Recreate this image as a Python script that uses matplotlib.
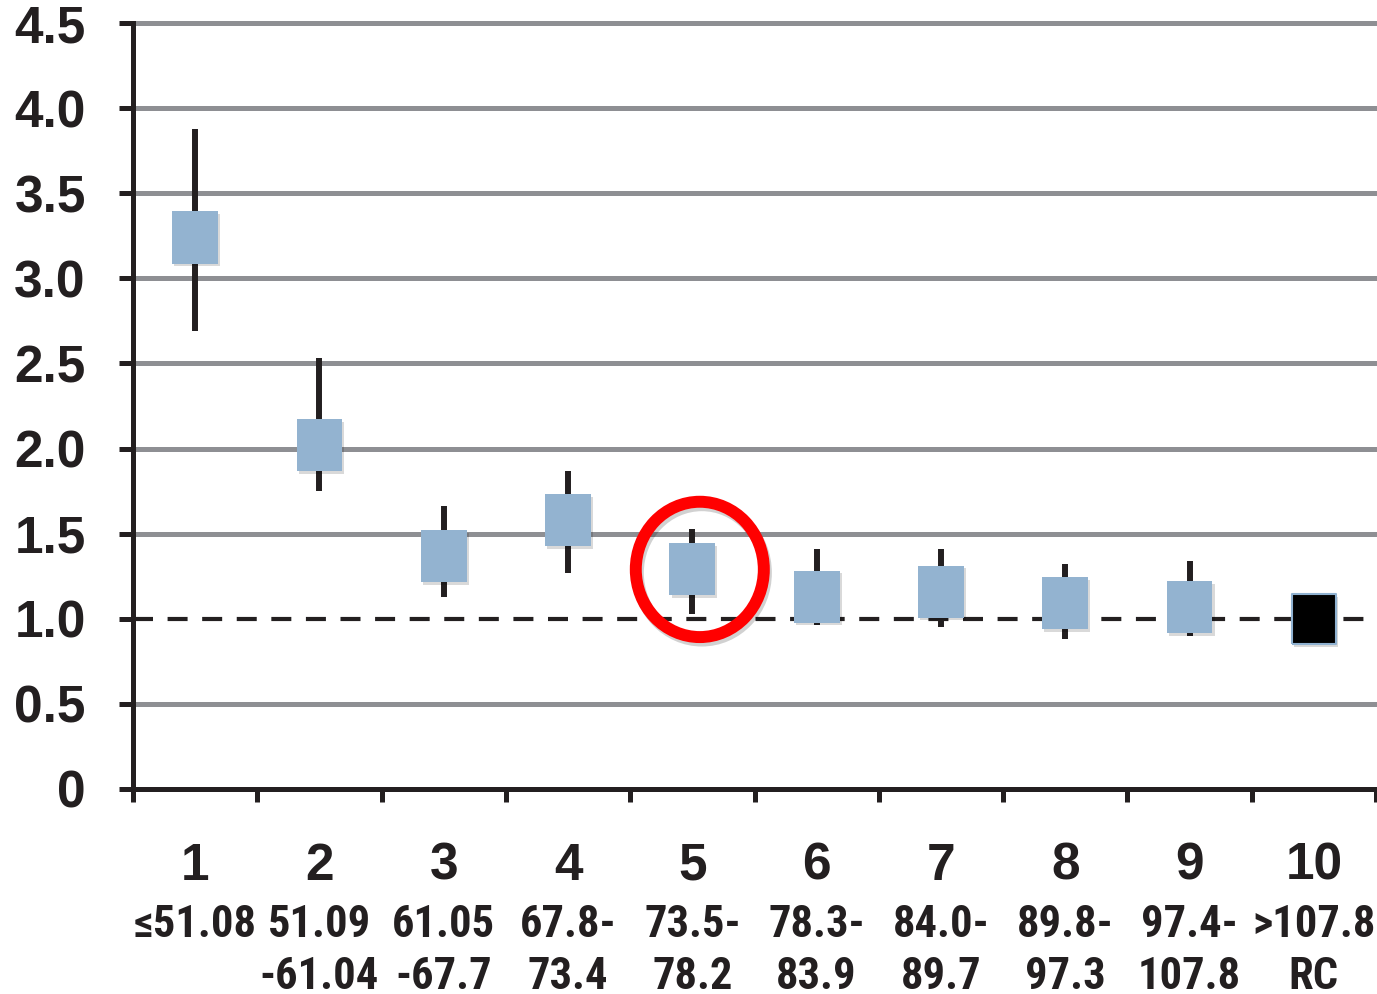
import matplotlib
matplotlib.use("Agg")
import matplotlib.pyplot as plt
import matplotlib.font_manager as fm
import matplotlib.patheffects as pe
import matplotlib.transforms as mtransforms
from matplotlib.patches import Ellipse

# ---- data ----
groups = [1, 2, 3, 4, 5, 6, 7, 8, 9, 10]
group_labels = ["1", "2", "3", "4", "5", "6", "7", "8", "9", "10"]
range_line1 = ["\u226451.08", "51.09", "61.05", "67.8-", "73.5-", "78.3-", "84.0-", "89.8-", "97.4-", ">107.8"]
range_line2 = ["", "-61.04", "-67.7", "73.4", "78.2", "83.9", "89.7", "97.3", "107.8", "RC"]
hr_values = [3.24, 2.02, 1.37, 1.58, 1.29, 1.13, 1.16, 1.09, 1.07, 1.00]
ci_lower = [2.69, 1.75, 1.13, 1.27, 1.03, 0.965, 0.95, 0.88, 0.90, 1.00]
ci_upper = [3.88, 2.53, 1.66, 1.87, 1.53, 1.41, 1.41, 1.32, 1.34, 1.00]
y_ticks = [0, 0.5, 1.0, 1.5, 2.0, 2.5, 3.0, 3.5, 4.0, 4.5]
y_tick_labels = ["0", "0.5", "1.0", "1.5", "2.0", "2.5", "3.0", "3.5", "4.0", "4.5"]
reference_value = 1.0
highlight_group = 5

# ---- fonts ----
names = {f.name for f in fm.fontManager.ttflist}
prefs = ["Liberation Sans Narrow", "Arial Narrow", "Roboto Condensed", "Archivo Narrow",
         "PT Sans Narrow", "IBM Plex Sans Condensed", "Fira Sans Condensed"]
narrow_family = next((p for p in prefs if p in names), "DejaVu Sans")
narrow = dict(family=[narrow_family, "DejaVu Sans"], weight="bold")
main_font = dict(family=["Liberation Sans", "DejaVu Sans"], weight="bold")

dark = "#231f20"
grid_gray = "#8e8f93"
box_blue = "#93b3d0"

W, H = 1377, 994
fig = plt.figure(figsize=(W / 100, H / 100), dpi=100)
ax_left, ax_right, ax_top, ax_bottom = 133, 1376, 23, 789
ax = fig.add_axes([ax_left / W, 1 - ax_bottom / H, (ax_right - ax_left) / W, (ax_bottom - ax_top) / H])
ax.set_xlim(0.5, 10.5)
ax.set_ylim(0, 4.5)

for yv in y_ticks:
    if yv == 0 or yv == reference_value:
        continue
    ax.axhline(yv, color=grid_gray, lw=3.6, zorder=1, clip_on=False)

ax.axhline(reference_value, color=dark, lw=3.0, ls=(0, (4.8, 3.5)), zorder=2)

n = len(groups)
for i in range(n):
    if ci_upper[i] > ci_lower[i]:
        ax.plot([groups[i], groups[i]], [ci_lower[i], ci_upper[i]], color=dark, lw=4.3,
                solid_capstyle="butt", zorder=3)

rect_marker = [(-0.44, -0.5), (0.44, -0.5), (0.44, 0.5), (-0.44, 0.5), (-0.44, -0.5)]
shadow = [pe.SimplePatchShadow(offset=(1.5, -2), shadow_rgbFace="#000000", alpha=0.15), pe.Normal()]

ax.plot(groups[:-1], hr_values[:-1], ls="none", marker=rect_marker, markersize=37.5,
        markerfacecolor=box_blue, markeredgewidth=0, zorder=4, path_effects=shadow, clip_on=False)
ax.plot(groups[-1:], hr_values[-1:], ls="none", marker=rect_marker, markersize=36,
        markerfacecolor="#000000", markeredgecolor="#8fb1d0", markeredgewidth=1.5, zorder=4,
        path_effects=shadow, clip_on=False)

circ = Ellipse((highlight_group + 0.06, hr_values[highlight_group - 1]), width=1.03, height=0.795,
               fill=False, edgecolor="#ff0000", lw=8.6, zorder=6,
               path_effects=[pe.SimpleLineShadow(offset=(1.5, -2.5), shadow_color="#000000", alpha=0.18), pe.Normal()])
ax.add_patch(circ)

for s in ["top", "right"]:
    ax.spines[s].set_visible(False)
for s in ["left", "bottom"]:
    ax.spines[s].set_linewidth(3.6)
    ax.spines[s].set_color(dark)
    ax.spines[s].set_zorder(5)

ax.set_yticks(y_ticks)
ax.set_yticklabels(y_tick_labels, fontsize=37, color=dark, **main_font)
ax.tick_params(axis="y", direction="out", length=10, width=3.6, color=dark, pad=24)

ax.set_xticks(groups)
ax.set_xticklabels([])
ax.tick_params(axis="x", which="major", length=0)
ax.set_xticks([g - 0.5 for g in groups] + [groups[-1] + 0.5], minor=True)
ax.tick_params(axis="x", which="minor", direction="out", length=9, width=3.6, color=dark)

trans = mtransforms.blended_transform_factory(ax.transData, ax.transAxes)
hgt = ax_bottom - ax_top
for i in range(n):
    ax.text(groups[i], -(880 - ax_bottom) / hgt, group_labels[i], transform=trans, ha="center",
            va="baseline", fontsize=37, color=dark, **main_font)
    ax.text(groups[i], -(937 - ax_bottom) / hgt, range_line1[i], transform=trans, ha="center",
            va="baseline", fontsize=32, color=dark, **narrow)
    if range_line2[i]:
        ax.text(groups[i], -(989 - ax_bottom) / hgt, range_line2[i], transform=trans, ha="center",
                va="baseline", fontsize=32, color=dark, **narrow)

fig.savefig("out.png", dpi=100)
